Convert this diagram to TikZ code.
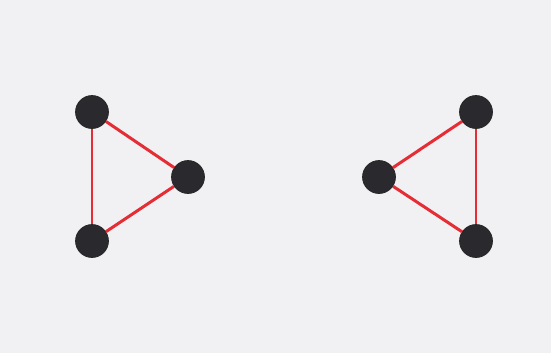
\documentclass[tikz,border=0pt]{standalone}
\usepackage{xcolor}
\usepackage{tikz}
\usetikzlibrary{positioning}
\definecolor{pagegray}{RGB}{241,241,243}
\definecolor{linkred}{RGB}{228,45,52}
\definecolor{dotblack}{RGB}{42,42,46}

\begin{document}
\begin{tikzpicture}[
  x=0.02cm, y=-0.02cm,
  dot/.style={circle, fill=dotblack, draw=black!85, line width=0.4pt,
              minimum size=0.66cm, inner sep=0pt},
  link/.style={draw=linkred, line width=1.7pt},
]
  \fill[pagegray] (0,0) rectangle (551,353);
  \useasboundingbox (0,0) rectangle (551,353);

  % left triangle
  \node[dot] (lt) at (92,112) {};
  \node[dot] (lr) at (188,177) {};
  \node[dot] (lb) at (92,241) {};

  % right triangle
  \node[dot] (rt) at (476,112) {};
  \node[dot] (rl) at (379,177) {};
  \node[dot] (rb) at (476,241) {};

  \draw[link] (lt) -- (lr);
  \draw[link] (lr) -- (lb);
  \draw[link] (lb) -- (lt);

  \draw[link] (rt) -- (rl);
  \draw[link] (rl) -- (rb);
  \draw[link] (rb) -- (rt);
\end{tikzpicture}
\end{document}
